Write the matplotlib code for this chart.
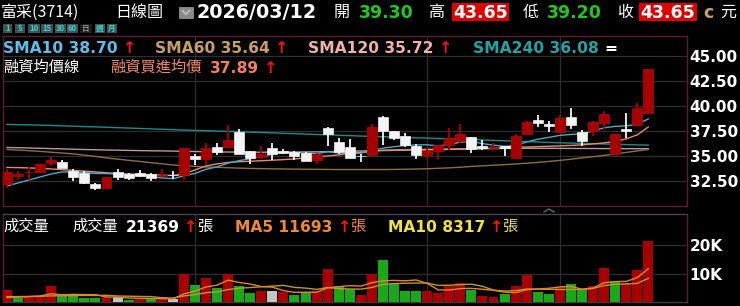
import numpy as np
import matplotlib
matplotlib.use('Agg')
import matplotlib.pyplot as plt
from matplotlib.patches import Rectangle
from matplotlib.lines import Line2D

# ---------------- data ----------------
opens = [32.24, 32.95, 33.36, 33.40, 34.25, 34.40, 33.50, 33.30, 32.24, 31.75,
         33.40, 33.15, 33.28, 33.24, 32.95, 33.10, 33.07, 34.97, 34.65, 35.90,
         35.90, 37.40, 35.47, 34.90, 35.80, 35.50, 35.40, 35.30, 34.57, 37.80,
         36.40, 35.84, 35.00, 35.07, 38.90, 37.47, 37.00, 35.97, 35.07, 35.47,
         36.07, 36.50, 36.84, 36.00, 35.80, 35.97, 34.84, 37.17, 38.57, 38.14,
         37.40, 38.84, 37.40, 37.50, 38.24, 35.20, 37.64, 38.07, 39.30]
highs = [33.74, 33.45, 33.90, 34.20, 34.90, 34.64, 33.74, 33.47, 32.30, 32.90,
         33.74, 33.30, 33.55, 33.30, 33.74, 33.50, 35.80, 35.24, 36.30, 36.24,
         38.07, 37.64, 35.50, 35.97, 36.24, 35.70, 35.45, 35.35, 35.30, 37.85,
         36.74, 36.64, 35.24, 38.17, 38.95, 37.50, 37.24, 36.14, 35.90, 36.10,
         37.74, 38.14, 36.90, 36.57, 36.24, 36.00, 37.14, 38.50, 39.07, 38.47,
         39.07, 39.74, 37.57, 38.47, 39.50, 37.20, 39.24, 40.24, 43.65]
lows = [31.84, 32.58, 32.60, 33.30, 34.00, 33.80, 32.50, 32.20, 31.55, 31.70,
        32.57, 32.60, 32.85, 32.50, 32.90, 32.74, 32.57, 34.07, 34.07, 35.07,
        35.90, 35.20, 34.24, 34.74, 34.64, 35.20, 34.57, 34.45, 34.24, 35.97,
        35.24, 34.80, 34.40, 35.00, 36.07, 36.57, 35.90, 34.67, 34.74, 34.74,
        35.57, 36.24, 35.34, 35.57, 35.57, 35.00, 34.80, 37.10, 37.90, 37.40,
        37.24, 37.67, 35.97, 36.97, 37.57, 35.15, 36.74, 38.00, 39.20]
closes = [33.40, 33.20, 33.42, 34.15, 34.62, 33.80, 32.90, 32.25, 31.75, 32.85,
          32.85, 32.80, 32.97, 32.80, 33.05, 33.05, 35.74, 34.65, 35.80, 35.40,
          36.57, 35.24, 34.80, 35.20, 35.20, 35.25, 35.00, 34.50, 35.24, 37.14,
          35.40, 34.84, 34.95, 37.90, 37.47, 36.80, 36.07, 35.07, 35.47, 36.07,
          36.74, 37.17, 35.67, 35.74, 35.90, 35.74, 36.97, 38.40, 38.24, 37.97,
          38.74, 38.07, 36.47, 38.34, 39.17, 37.17, 37.47, 39.74, 43.65]
prev_close_before_first = 32.30

volumes = [4100, 1400, 1800, 1600, 5600, 2200, 2200, 1400, 1400, 1700,
           1800, 700, 1000, 1000, 1600, 900, 9700, 5900, 8300, 4800,
           9700, 5600, 3200, 3800, 3800, 3600, 2600, 3400, 3800, 11500,
           5500, 4500, 2600, 9800, 14700, 6300, 3900, 3900, 3900, 3300,
           6000, 6500, 4300, 2200, 1600, 2800, 5500, 9500, 3500, 2700,
           5300, 6300, 4700, 5700, 11800, 7400, 6500, 11400, 21369]

sma10 = [32.00, 32.30, 32.60, 32.90, 33.20, 33.40, 33.40, 33.35, 33.25, 33.23,
         33.18, 33.14, 33.09, 32.96, 32.80, 32.73, 33.01, 33.25, 33.66, 33.91,
         34.28, 34.53, 34.71, 34.95, 35.17, 35.39, 35.31, 35.30, 35.24, 35.41,
         35.30, 35.26, 35.27, 35.54, 35.77, 35.92, 36.03, 36.09, 36.11, 36.00,
         36.14, 36.37, 36.44, 36.23, 36.07, 35.96, 36.05, 36.39, 36.66, 36.85,
         37.05, 37.14, 37.22, 37.48, 37.81, 37.95, 38.00, 38.14, 38.70]
sma60 = [35.65, 35.58, 35.52, 35.45, 35.37, 35.29, 35.20, 35.08, 34.95, 34.80,
         34.68, 34.56, 34.45, 34.33, 34.21, 34.10, 34.03, 33.96, 33.90, 33.86,
         33.82, 33.78, 33.75, 33.73, 33.71, 33.70, 33.68, 33.67, 33.66, 33.65,
         33.64, 33.64, 33.64, 33.64, 33.64, 33.65, 33.67, 33.69, 33.72, 33.76,
         33.81, 33.87, 33.95, 34.01, 34.07, 34.13, 34.20, 34.27, 34.35, 34.45,
         34.55, 34.67, 34.80, 34.92, 35.05, 35.20, 35.35, 35.50, 35.64]
sma120 = [35.84, 35.82, 35.79, 35.76, 35.73, 35.70, 35.67, 35.64, 35.61, 35.59,
          35.57, 35.55, 35.53, 35.51, 35.50, 35.48, 35.46, 35.44, 35.42, 35.40,
          35.39, 35.38, 35.37, 35.37, 35.37, 35.38, 35.39, 35.40, 35.41, 35.43,
          35.45, 35.47, 35.49, 35.51, 35.53, 35.55, 35.57, 35.59, 35.61, 35.63,
          35.65, 35.67, 35.69, 35.71, 35.73, 35.74, 35.75, 35.76, 35.76, 35.76,
          35.75, 35.75, 35.74, 35.74, 35.73, 35.73, 35.72, 35.72, 35.72]
sma240 = [38.15, 38.12, 38.10, 38.07, 38.04, 38.00, 37.97, 37.93, 37.90, 37.86,
          37.82, 37.78, 37.74, 37.70, 37.66, 37.62, 37.58, 37.55, 37.52, 37.48,
          37.45, 37.41, 37.37, 37.34, 37.30, 37.26, 37.22, 37.18, 37.14, 37.10,
          37.06, 37.02, 36.98, 36.95, 36.92, 36.88, 36.85, 36.81, 36.78, 36.74,
          36.71, 36.67, 36.63, 36.59, 36.55, 36.51, 36.47, 36.43, 36.39, 36.35,
          36.31, 36.28, 36.25, 36.22, 36.19, 36.16, 36.13, 36.10, 36.08]
margin_cost = [33.85, 33.83, 33.80, 33.75, 33.70, 33.63, 33.55, 33.48, 33.40, 33.32,
               33.25, 33.20, 33.15, 33.10, 33.07, 33.05, 33.20, 33.60, 34.00, 34.20,
               34.35, 34.42, 34.47, 34.52, 34.57, 34.63, 34.70, 34.80, 34.90, 35.00,
               35.10, 35.25, 35.35, 35.45, 35.57, 35.60, 35.62, 35.64, 35.66, 35.67,
               35.68, 35.70, 35.72, 35.74, 35.78, 35.81, 35.85, 35.89, 35.93, 35.96,
               36.00, 36.05, 36.10, 36.20, 36.30, 36.45, 36.70, 37.10, 37.89]

vol_ma5 = [1600, 1700, 1900, 2100, 2900, 2520, 2680, 2600, 2560, 1780,
           1700, 1400, 1320, 1240, 1220, 1040, 2840, 3820, 5280, 5920,
           7680, 6860, 6320, 5420, 5220, 4000, 3400, 3440, 3440, 4980,
           5360, 5740, 5580, 6780, 7420, 7580, 7460, 7720, 6540, 4260,
           4200, 4720, 4800, 4460, 4120, 3480, 3280, 4320, 4580, 4800,
           5300, 5460, 4500, 4940, 6760, 7180, 7220, 8560, 11693]
vol_ma10 = [1900, 1900, 1950, 2000, 2150, 2200, 2250, 2300, 2300, 2340,
            2110, 2040, 1960, 1900, 1500, 1370, 2120, 2570, 3260, 3570,
            4360, 4850, 5070, 5350, 5570, 5840, 5130, 4880, 4430, 5100,
            4680, 4570, 4510, 5110, 6200, 6470, 6600, 6650, 6660, 5840,
            5890, 6090, 6260, 5500, 4190, 3840, 4000, 4560, 4520, 4460,
            4390, 4370, 4410, 4760, 5780, 6240, 6340, 6530, 8317]

month_starts = [17, 38, 50]
price_ticks = [32.5, 35.0, 37.5, 40.0, 42.5, 45.0]
vol_ticks = [10000, 20000]
vol_tick_labels = ['10K', '20K']

# ---------------- figure ----------------
W, H = 740, 306
fig = plt.figure(figsize=(W / 100, H / 100), dpi=100, facecolor='black')

def fx(x):
    return x / W

def fy(y):
    return 1 - y / H

CJK = ['Noto Sans CJK TC', 'DejaVu Sans']
NUM = ['DejaVu Sans', 'Noto Sans CJK TC']

def T(x, y, s, color='white', size=11, weight='normal', family=NUM, ha='left', va='baseline'):
    fig.text(fx(x), fy(y), s, color=color, fontsize=size, fontweight=weight,
             family=family, ha=ha, va=va)

n = len(closes)
idx = np.arange(n)
xlim = (-0.36, 61.5)

ax = fig.add_axes([fx(3), fy(206), (687 - 3) / W, (206 - 36) / H], facecolor='black')
axv = fig.add_axes([fx(3), fy(302), (687 - 3) / W, (302 - 214) / H], facecolor='black')

RED = '#a80000'
RED_EDGE = '#b80808'
WHITE = '#f4f4f4'
GREEN = '#18a818'
GRAY = '#c4c4c4'
GRID = '#2e2e2e'

# price panel
for a in (ax, axv):
    a.set_xlim(*xlim)
    for m in month_starts:
        a.axvline(m, color=GRID, lw=0.9, zorder=0)

ax.set_ylim(30.0, 46.97)
for t in price_ticks:
    ax.axhline(t, color=GRID, lw=0.9, zorder=0)

o = np.array(opens); c = np.array(closes); h = np.array(highs); l = np.array(lows)
up = c >= o
cols = np.where(up, RED, WHITE)
ax.vlines(idx, l, h, colors=cols, lw=1.3, zorder=3)
body_bot = np.minimum(o, c)
body_h = np.maximum(np.abs(c - o), 0.08)
ax.bar(idx, body_h, bottom=body_bot, width=0.9, color=cols,
       edgecolor=np.where(up, RED_EDGE, WHITE), linewidth=0.5, zorder=4)

ax.plot(idx, sma240, color='#1a8c8c', lw=1.0, zorder=2)
ax.plot(idx, sma120, color='#b89a94', lw=1.0, zorder=2)
ax.plot(idx, sma60, color='#8a7040', lw=1.0, zorder=2)
ax.plot(idx, margin_cost, color='#e88a6a', lw=1.0, zorder=2)
ax.plot(idx, sma10, color='#4aa8c8', lw=1.0, zorder=2)

ax.set_yticks(price_ticks)
ax.set_yticklabels(['%.2f' % t for t in price_ticks])
ax.yaxis.tick_right()
ax.tick_params(axis='y', length=0, pad=2, labelsize=11, labelcolor='white')
for lab in ax.get_yticklabels():
    lab.set_fontweight('bold')
ax.set_xticks([])

# volume panel
vol = np.array(volumes)
prev = np.concatenate([[prev_close_before_first], c[:-1]])
vcols = np.where(c > prev, RED, np.where(c < prev, GREEN, GRAY))
axv.bar(idx, vol, width=0.9, color=vcols, zorder=3)
axv.plot(idx, vol_ma10, color='#b89a30', lw=1.0, zorder=4)
axv.plot(idx, vol_ma5, color='#e8842a', lw=1.0, zorder=4)
axv.set_ylim(0, 30900)
for t in vol_ticks:
    axv.axhline(t, color=GRID, lw=0.9, zorder=0)
axv.set_yticks(vol_ticks)
axv.set_yticklabels(vol_tick_labels)
axv.yaxis.tick_right()
axv.tick_params(axis='y', length=0, pad=2, labelsize=11, labelcolor='white')
for lab in axv.get_yticklabels():
    lab.set_fontweight('bold')
axv.set_xticks([])

for a in (ax, axv):
    for s in a.spines.values():
        s.set_color('#5a1e2e')
        s.set_linewidth(1.0)
axv.spines['top'].set_color('#4e4050')
axv.spines['bottom'].set_color('#3a3a3a')

# caret between panels
fig.add_artist(Line2D([fx(544), fx(549), fx(554)], [fy(212), fy(209), fy(212)],
                      color='#707080', lw=0.9))

# ---------------- header texts ----------------
T(1, 17, '富采(3714)', size=11.5, family=CJK)
T(115, 17, '日線圖', size=11.5, family=CJK)
fig.add_artist(Rectangle((fx(179), fy(18)), 14 / W, 11 / H, transform=fig.transFigure,
                         facecolor='#8a8a8a', edgecolor='#a0a0a0', lw=0.5))
fig.add_artist(Line2D([fx(182.5), fx(186), fx(189.5)], [fy(10.5), fy(14.5), fy(10.5)],
                      color='#c8c8c8', lw=1.0))
T(197, 17.5, '2026/03/12', size=13.8, weight='bold')
T(334, 17, '開', size=11.5, family=CJK)
T(359, 17.5, '39.30', color='#1ec81e', size=12.5, weight='bold')
T(428, 17, '高', size=11.5, family=CJK)
fig.add_artist(Rectangle((fx(452), fy(21)), 57 / W, 18 / H, transform=fig.transFigure,
                         facecolor='#e00000', edgecolor='none'))
T(480.5, 17.5, '43.65', size=12.5, weight='bold', ha='center')
T(523, 17, '低', size=11.5, family=CJK)
T(547, 17.5, '39.20', color='#1ec81e', size=12.5, weight='bold')
T(617, 17, '收', size=11.5, family=CJK)
fig.add_artist(Rectangle((fx(639), fy(21)), 58 / W, 18 / H, transform=fig.transFigure,
                         facecolor='#e00000', edgecolor='none'))
T(668, 17.5, '43.65', size=12.5, weight='bold', ha='center')
T(703, 17.5, 'c', color='#c8a060', size=12.5, weight='bold')
T(720, 17, '元', size=11.5, family=CJK)

# period buttons
buttons = ['1', '5', '10', '15', '30', '60', '日', '週', '月']
bx = [(3, 12), (15, 25), (28, 40), (41, 53), (55, 66), (67, 78), (80, 92), (95, 105), (107, 117)]
for lab, (x0, x1) in zip(buttons, bx):
    sel = lab == '日'
    fig.add_artist(Rectangle((fx(x0), fy(33)), (x1 - x0) / W, 9 / H, transform=fig.transFigure,
                             facecolor='#1c1c1c' if sel else '#3c5454', edgecolor='none'))
    fig.text(fx((x0 + x1) / 2), fy(28.5), lab, color='#909090' if sel else '#40d0d0',
             fontsize=5.5, fontweight='bold', family=CJK, ha='center', va='center')

# legend row 1
T(3, 53, 'SMA10 38.70', color='#5cc0ea', size=11.2, weight='bold')
T(123, 53, '↑', color='#ff1010', size=11.5, weight='bold')
T(155, 53, 'SMA60 35.64', color='#c8a062', size=11.2, weight='bold')
T(275, 53, '↑', color='#ff1010', size=11.5, weight='bold')
T(308, 53, 'SMA120 35.72', color='#f0b4a4', size=11.2, weight='bold')
T(439, 53, '↑', color='#ff1010', size=11.5, weight='bold')
T(473, 53, 'SMA240 36.08', color='#20a4a4', size=11.2, weight='bold')
T(604, 53, '=', color='white', size=11.2, weight='bold')
# legend row 2
T(3, 72, '融資均價線', size=11, family=CJK)
T(110, 72, '融資買進均價', color='#f08a6a', size=11, family=CJK)
T(210, 73, '37.89', color='#f08060', size=11.2, weight='bold')
T(264, 73, '↑', color='#ff1010', size=11.5, weight='bold')

# volume header
T(3, 231, '成交量', size=11, family=CJK)
T(72, 231, '成交量', size=11, family=CJK)
T(126, 232, '21369', size=11.2, weight='bold')
T(184, 232, '↑', color='#ff1010', size=11.5, weight='bold')
T(197, 231, '張', size=11, family=CJK)
T(235, 232, 'MA5 11693', color='#f08a30', size=11.2, weight='bold')
T(338, 232, '↑', color='#ff1010', size=11.5, weight='bold')
T(350, 231, '張', color='#f08a30', size=11, family=CJK)
T(388, 232, 'MA10 8317', color='#f0e040', size=11.2, weight='bold')
T(490, 232, '↑', color='#ff1010', size=11.5, weight='bold')
T(502, 231, '張', color='#f0e040', size=11, family=CJK)

fig.savefig('out.png', dpi=100, facecolor='black')
